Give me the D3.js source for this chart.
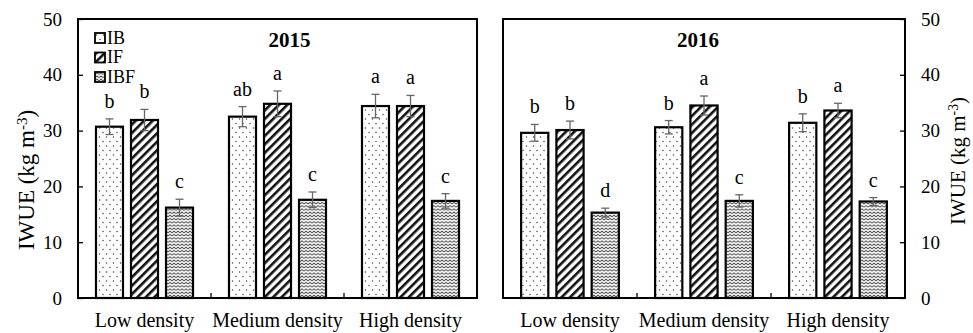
<!DOCTYPE html>
<html>
<head>
<meta charset="utf-8">
<script src="https://cdn.jsdelivr.net/npm/d3@7"></script>
<style>
  body { margin: 0; background: #fff; }
  svg { display: block; font-family: "Liberation Serif", "Times New Roman", serif; }
</style>
</head>
<body>
<div id="wrapper"></div>
<script>
// Data
const categories = ['Low density', 'Medium density', 'High density'];
const series = ['IB', 'IF', 'IBF'];
const years = ['2015', '2016'];
const yTicks = [0, 10, 20, 30, 40, 50];

// values[category][series]
const values2015 = [[30.7, 31.9, 16.2], [32.5, 34.8, 17.6], [34.4, 34.4, 17.4]];
const errors2015 = [[1.4, 1.9, 1.5], [1.8, 2.3, 1.4], [2.1, 1.9, 1.3]];
const letters2015 = [['b', 'b', 'c'], ['ab', 'a', 'c'], ['a', 'a', 'c']];

const values2016 = [[29.6, 30.1, 15.3], [30.6, 34.5, 17.4], [31.4, 33.6, 17.3]];
const errors2016 = [[1.5, 1.6, 0.8], [1.2, 1.7, 1.1], [1.6, 1.3, 0.7]];
const letters2016 = [['b', 'b', 'd'], ['b', 'a', 'c'], ['b', 'a', 'c']];

const panels = [
  { year: years[0], values: values2015, errors: errors2015, letters: letters2015, left: 78, right: 477, side: 'left', titleShift: 12 },
  { year: years[1], values: values2016, errors: errors2016, letters: letters2016, left: 503, right: 905, side: 'right', titleShift: -6 },
];

const width = 973;
const height = 333;
const plotTop = 19;
const plotBottom = 298;

const svg = d3.select('#wrapper')
  .append('svg')
  .attr('width', width)
  .attr('height', height);

// Patterns
const defs = svg.append('defs');

const dots = defs.append('pattern')
  .attr('id', 'pat-IB')
  .attr('patternUnits', 'userSpaceOnUse')
  .attr('width', 7)
  .attr('height', 9);
dots.append('rect').attr('width', 7).attr('height', 9).attr('fill', '#fff');
dots.append('circle').attr('cx', 1.5).attr('cy', 2).attr('r', 0.75).attr('fill', '#444');
dots.append('circle').attr('cx', 5).attr('cy', 6.5).attr('r', 0.75).attr('fill', '#444');

const stripes = defs.append('pattern')
  .attr('id', 'pat-IF')
  .attr('patternUnits', 'userSpaceOnUse')
  .attr('width', 6)
  .attr('height', 6)
  .attr('patternTransform', 'rotate(45)');
stripes.append('rect').attr('width', 6).attr('height', 6).attr('fill', '#fff');
stripes.append('rect').attr('x', 0).attr('width', 2.6).attr('height', 6).attr('fill', '#111');

const zig = defs.append('pattern')
  .attr('id', 'pat-IBF')
  .attr('patternUnits', 'userSpaceOnUse')
  .attr('width', 4)
  .attr('height', 3.2);
zig.append('rect').attr('width', 4).attr('height', 3.2).attr('fill', '#fff');
zig.append('path')
  .attr('d', 'M0,2.4 L2,0.8 L4,2.4')
  .attr('fill', 'none')
  .attr('stroke', '#444')
  .attr('stroke-width', 1);

const yScale = d3.scaleLinear().domain([0, 50]).range([plotBottom, plotTop]);

panels.forEach((p) => {
  const g = svg.append('g');

  const xScale = d3.scaleBand()
    .domain(categories)
    .range([p.left, p.right])
    .padding(0);

  const x1 = d3.scaleBand()
    .domain(series)
    .range([0, xScale.bandwidth()])
    .paddingInner(0.229)
    .paddingOuter(0.514);

  // y axis
  const yAxis = (p.side === 'left' ? d3.axisLeft(yScale) : d3.axisRight(yScale))
    .tickValues(yTicks)
    .tickSizeInner(-5)
    .tickSizeOuter(0)
    .tickPadding(16);

  const yG = g.append('g')
    .attr('transform', `translate(${p.side === 'left' ? p.left : p.right},0)`)
    .call(yAxis);
  yG.select('.domain').remove();
  yG.selectAll('line').attr('stroke', '#000').attr('stroke-width', 1.3);
  yG.selectAll('text')
    .attr('font-family', '"Liberation Serif", serif')
    .attr('font-size', 19)
    .attr('fill', '#000');

  // separator ticks at bottom
  g.selectAll('.sep')
    .data(categories.slice(1))
    .join('line')
    .attr('x1', (d) => xScale(d))
    .attr('x2', (d) => xScale(d))
    .attr('y1', plotBottom)
    .attr('y2', plotBottom - 5)
    .attr('stroke', '#000')
    .attr('stroke-width', 1.3);

  // category labels
  g.selectAll('.cat')
    .data(categories)
    .join('text')
    .attr('x', (d) => xScale(d) + xScale.bandwidth() / 2)
    .attr('y', 327)
    .attr('text-anchor', 'middle')
    .attr('font-size', 20)
    .text((d) => d);

  // bars
  const rows = [];
  categories.forEach((c, i) => {
    series.forEach((s, j) => {
      rows.push({ cat: c, ser: s, v: p.values[i][j], e: p.errors[i][j], l: p.letters[i][j] });
    });
  });

  g.selectAll('.bar')
    .data(rows)
    .join('rect')
    .attr('x', (d) => xScale(d.cat) + x1(d.ser))
    .attr('y', (d) => yScale(d.v))
    .attr('width', x1.bandwidth())
    .attr('height', (d) => yScale(0) - yScale(d.v))
    .attr('fill', (d) => `url(#pat-${d.ser})`)
    .attr('stroke', '#000')
    .attr('stroke-width', 2.2);

  // error bars
  const cx = (d) => xScale(d.cat) + x1(d.ser) + x1.bandwidth() / 2;
  const eg = g.selectAll('.err').data(rows).join('g').attr('stroke', '#666').attr('stroke-width', 1.3);
  eg.append('line')
    .attr('x1', cx).attr('x2', cx)
    .attr('y1', (d) => yScale(d.v - d.e))
    .attr('y2', (d) => yScale(d.v + d.e));
  eg.append('line')
    .attr('x1', (d) => cx(d) - 4).attr('x2', (d) => cx(d) + 4)
    .attr('y1', (d) => yScale(d.v + d.e))
    .attr('y2', (d) => yScale(d.v + d.e));
  eg.append('line')
    .attr('x1', (d) => cx(d) - 4).attr('x2', (d) => cx(d) + 4)
    .attr('y1', (d) => yScale(d.v - d.e))
    .attr('y2', (d) => yScale(d.v - d.e));

  // letters
  g.selectAll('.letter')
    .data(rows)
    .join('text')
    .attr('x', cx)
    .attr('y', (d) => yScale(d.v + d.e) - 11)
    .attr('text-anchor', 'middle')
    .attr('font-size', 20)
    .text((d) => d.l);

  // frame
  g.append('rect')
    .attr('x', p.left)
    .attr('y', plotTop)
    .attr('width', p.right - p.left)
    .attr('height', plotBottom - plotTop)
    .attr('fill', 'none')
    .attr('stroke', '#000')
    .attr('stroke-width', 2);

  // year title
  g.append('text')
    .attr('x', (p.left + p.right) / 2 + p.titleShift)
    .attr('y', 47)
    .attr('text-anchor', 'middle')
    .attr('font-weight', 'bold')
    .attr('font-size', 21)
    .text(p.year);
});

// y axis titles
function yTitle(x, y, size) {
  const t = svg.append('text')
    .attr('transform', `translate(${x},${y}) rotate(-90)`)
    .attr('text-anchor', 'middle')
    .attr('font-size', size);
  t.append('tspan').text('IWUE (kg m');
  t.append('tspan').attr('dy', -7).attr('font-size', size * 0.65).text('-3');
  t.append('tspan').attr('dy', 7).text(')');
}
yTitle(34, 180, 23);
yTitle(965, 161, 21);

// legend
const legend = svg.append('g').attr('transform', 'translate(95,33)');
const li = legend.selectAll('g')
  .data(series)
  .join('g')
  .attr('transform', (d, i) => `translate(0,${i * 19.5})`);
li.append('rect')
  .attr('width', 10)
  .attr('height', 10)
  .attr('fill', (d) => `url(#pat-${d})`)
  .attr('stroke', '#000')
  .attr('stroke-width', 1.8);
li.append('text')
  .attr('x', 12)
  .attr('y', 10.5)
  .attr('font-size', 18)
  .text((d) => d);
</script>
</body>
</html>
